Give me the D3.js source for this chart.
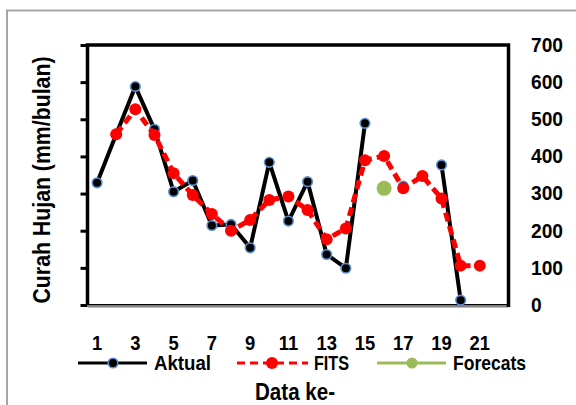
<!DOCTYPE html>
<html><head><meta charset="utf-8">
<script src="https://cdn.jsdelivr.net/npm/d3@7"></script>
<style>
body{margin:0;background:#fff;}
text{font-family:"Liberation Sans",Arial,sans-serif;font-weight:bold;fill:#000;}
</style></head>
<body><svg id="c" width="576" height="405"></svg>
<script>
const categories = d3.range(1, 23);
const tickLabels = [1,3,5,7,9,11,13,15,17,19,21];
const yTicks = [0,100,200,300,400,500,600,700];
const aktual = [329,460,588,473,305,335,214,217,154,384,226,332,136,99,489,null,320,null,377,13,null,null];
const fits = [null,460,527,458,355,296,245,200,229,283,292,256,177,206,390,401,314,347,287,106,106,null];
const forecats = [null,null,null,null,null,null,null,null,null,null,null,null,null,null,null,314,null,null,null,null,null,null];

const svg = d3.select("#c");
const L = 87.5, R = 508.5, T = 45, B = 305;
const x = d3.scaleBand().domain(categories).range([L, R]);
const cx = d => x(d) + x.bandwidth()/2;
const y = d3.scaleLinear().domain([0,700]).range([B, T]);

function squeeze(sel, f){
  sel.each(function(){
    const w = this.getComputedTextLength();
    d3.select(this).attr("textLength", w*f).attr("lengthAdjust","spacingAndGlyphs");
  });
}

// outer frame
svg.append("rect").attr("x",7).attr("y",10.5).attr("width",600).attr("height",420)
  .attr("fill","none").attr("stroke","#a6a6a6").attr("stroke-width",2);

// left axis ticks (no labels)
const la = svg.append("g").attr("transform",`translate(${L},0)`)
  .call(d3.axisLeft(y).tickValues(yTicks).tickSize(7).tickFormat(""));
la.select(".domain").remove();
la.selectAll("line").attr("stroke","#000").attr("stroke-width",3);

// right axis labels
const ra = svg.append("g").attr("transform",`translate(531,0)`)
  .call(d3.axisRight(y).tickValues(yTicks).tickSize(0).tickPadding(0));
ra.select(".domain").remove();
ra.selectAll("text").attr("font-size",20).attr("text-anchor","start").attr("fill","#000").attr("font-family",null);
squeeze(ra.selectAll("text"), 0.96);

// x axis labels
const xa = svg.append("g").attr("transform",`translate(0,${B})`)
  .call(d3.axisBottom(x).tickValues(tickLabels).tickSize(0).tickPadding(31));
xa.select(".domain").remove();
xa.selectAll("text").attr("font-size",20).attr("fill","#000").attr("font-family",null);
squeeze(xa.selectAll("text"), 0.92);

// plot box
svg.append("line").attr("x1",L).attr("x2",R).attr("y1",B+1).attr("y2",B+1).attr("stroke","#808080").attr("stroke-width",3);
svg.append("line").attr("x1",L).attr("x2",R).attr("y1",B-0.5).attr("y2",B-0.5).attr("stroke","#000").attr("stroke-width",1.2);
svg.append("path").attr("d",`M${L},${B} L${L},${T} L${R},${T} L${R},${B+2}`)
  .attr("fill","none").attr("stroke","#000").attr("stroke-width",3.5);

const line = d3.line().defined(d => d.v != null).x(d => cx(d.c)).y(d => y(d.v));
const pts = arr => categories.map((c,i) => ({c, v: arr[i]}));

// Aktual
svg.append("path").datum(pts(aktual)).attr("d", line)
  .attr("fill","none").attr("stroke","#000").attr("stroke-width",4).attr("stroke-linejoin","round");
svg.append("g").selectAll("circle").data(pts(aktual).filter(d=>d.v!=null)).join("circle")
  .attr("cx",d=>cx(d.c)).attr("cy",d=>y(d.v)).attr("r",4.8)
  .attr("fill","#000").attr("stroke","#5b8fd0").attr("stroke-width",1.6);

// FITS
svg.append("path").datum(pts(fits)).attr("d", line)
  .attr("fill","none").attr("stroke","#ff0000").attr("stroke-width",5).attr("stroke-dasharray","9,5");
svg.append("g").selectAll("circle").data(pts(fits).filter(d=>d.v!=null)).join("circle")
  .attr("cx",d=>cx(d.c)).attr("cy",d=>y(d.v)).attr("r",6).attr("fill","#ff0000");

// Forecats
svg.append("g").selectAll("circle").data(pts(forecats).filter(d=>d.v!=null)).join("circle")
  .attr("cx",d=>cx(d.c)).attr("cy",d=>y(d.v)).attr("r",7.5).attr("fill","#9bbb59");

// legend
const ly = 363;
const lg = svg.append("g");
lg.append("line").attr("x1",78).attr("x2",147).attr("y1",ly).attr("y2",ly).attr("stroke","#000").attr("stroke-width",3);
lg.append("circle").attr("cx",113).attr("cy",ly).attr("r",4.8).attr("fill","#000").attr("stroke","#5b8fd0").attr("stroke-width",1.6);
lg.append("text").attr("x",154).attr("y",370).attr("font-size",20.5).attr("textLength",57).attr("lengthAdjust","spacingAndGlyphs").text("Aktual");
lg.append("line").attr("x1",237).attr("x2",308).attr("y1",ly).attr("y2",ly).attr("stroke","#ff0000").attr("stroke-width",3).attr("stroke-dasharray","8,5");
lg.append("circle").attr("cx",272).attr("cy",ly).attr("r",6).attr("fill","#ff0000");
lg.append("text").attr("x",314).attr("y",370).attr("font-size",20.5).attr("textLength",35).attr("lengthAdjust","spacingAndGlyphs").text("FITS");
lg.append("line").attr("x1",377).attr("x2",446).attr("y1",ly).attr("y2",ly).attr("stroke","#9bbb59").attr("stroke-width",3);
lg.append("circle").attr("cx",412).attr("cy",ly).attr("r",5.5).attr("fill","#9bbb59");
lg.append("text").attr("x",453).attr("y",370).attr("font-size",20.5).attr("textLength",73).attr("lengthAdjust","spacingAndGlyphs").text("Forecats");

// titles
svg.append("text").attr("x",295).attr("y",400).attr("text-anchor","middle").attr("font-size",23.5)
  .attr("textLength",80).attr("lengthAdjust","spacingAndGlyphs").text("Data ke-");
svg.append("text").attr("transform","translate(50,180) rotate(-90)").attr("text-anchor","middle").attr("font-size",24)
  .attr("textLength",247).attr("lengthAdjust","spacingAndGlyphs").text("Curah Hujan (mm/bulan)");
</script></body></html>
